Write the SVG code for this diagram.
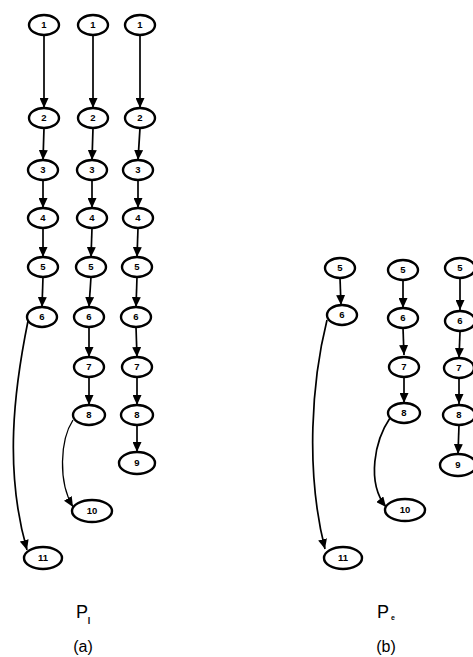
<svg xmlns="http://www.w3.org/2000/svg" width="473" height="657" viewBox="0 0 473 657">
<style>
.n ellipse{fill:#fff;stroke:#000;stroke-width:2.4}
.n text{font-family:"Liberation Sans",Arial,sans-serif;font-weight:bold;font-size:9.5px;text-anchor:middle;fill:#000}
.e{fill:none;stroke:#000;stroke-width:1.7;marker-end:url(#ah)}
.lbl{font-family:"Liberation Sans",Arial,sans-serif;fill:#000;text-anchor:middle}
</style>
<defs>
<marker id="ah" markerUnits="userSpaceOnUse" markerWidth="11" markerHeight="9" refX="10" refY="4.5" orient="auto">
<path d="M0,0 L10,4.5 L0,9 z" fill="#000"/>
</marker>
</defs>
<rect width="473" height="657" fill="#fff"/>
<g id="connectors">
<line class="e" x1="44" y1="35" x2="44" y2="108"/>
<line class="e" x1="44" y1="128" x2="43" y2="160"/>
<line class="e" x1="43" y1="180" x2="43" y2="208"/>
<line class="e" x1="43" y1="228" x2="43" y2="257"/>
<line class="e" x1="43" y1="277" x2="42" y2="307"/>
<path class="e" d="M28,321 C14,390 4,470 27,550"/>
<line class="e" x1="93" y1="35" x2="93" y2="108"/>
<line class="e" x1="93" y1="128" x2="92" y2="160"/>
<line class="e" x1="92" y1="180" x2="92" y2="208"/>
<line class="e" x1="92" y1="228" x2="91" y2="257"/>
<line class="e" x1="91" y1="277" x2="89" y2="307"/>
<line class="e" x1="89" y1="327" x2="89" y2="357"/>
<line class="e" x1="89" y1="377" x2="89" y2="405"/>
<path class="e" d="M73,420 C60,440 58,482 73,507" style="stroke-width:1.3"/>
<line class="e" x1="140" y1="35" x2="140" y2="108"/>
<line class="e" x1="140" y1="128" x2="138" y2="160"/>
<line class="e" x1="138" y1="180" x2="138" y2="208"/>
<line class="e" x1="138" y1="228" x2="137" y2="257"/>
<line class="e" x1="137" y1="277" x2="136" y2="307"/>
<line class="e" x1="136" y1="327" x2="137" y2="357"/>
<line class="e" x1="137" y1="377" x2="137" y2="405"/>
<line class="e" x1="137" y1="425" x2="137" y2="452"/>
<line class="e" x1="340" y1="278" x2="341" y2="305"/>
<path class="e" d="M327,320 C312,380 305,470 325,549"/>
<line class="e" x1="403" y1="280" x2="403" y2="308"/>
<line class="e" x1="403" y1="328" x2="404" y2="355"/>
<line class="e" x1="404" y1="377" x2="404" y2="403"/>
<path class="e" d="M390,418 C375,440 366,482 386,507"/>
<line class="e" x1="460" y1="278" x2="460" y2="310"/>
<line class="e" x1="460" y1="332" x2="459" y2="358"/>
<line class="e" x1="459" y1="378" x2="459" y2="404"/>
<line class="e" x1="459" y1="425" x2="458" y2="454"/>
</g>
<g id="a1_1" class="n"><ellipse cx="44" cy="25" rx="15" ry="10"/><text x="44" y="28">1</text></g>
<g id="a1_2" class="n"><ellipse cx="44" cy="118" rx="15" ry="10"/><text x="44" y="121">2</text></g>
<g id="a1_3" class="n"><ellipse cx="43" cy="170" rx="15" ry="10"/><text x="43" y="173">3</text></g>
<g id="a1_4" class="n"><ellipse cx="43" cy="218" rx="15" ry="10"/><text x="43" y="221">4</text></g>
<g id="a1_5" class="n"><ellipse cx="43" cy="267" rx="15" ry="10"/><text x="43" y="270">5</text></g>
<g id="a1_6" class="n"><ellipse cx="42" cy="317" rx="15" ry="10"/><text x="42" y="320">6</text></g>
<g id="a1_11" class="n"><ellipse cx="43" cy="558" rx="19" ry="11"/><text x="43" y="561">11</text></g>
<g id="a2_1" class="n"><ellipse cx="93" cy="25" rx="15" ry="10"/><text x="93" y="28">1</text></g>
<g id="a2_2" class="n"><ellipse cx="93" cy="118" rx="15" ry="10"/><text x="93" y="121">2</text></g>
<g id="a2_3" class="n"><ellipse cx="92" cy="170" rx="15" ry="10"/><text x="92" y="173">3</text></g>
<g id="a2_4" class="n"><ellipse cx="92" cy="218" rx="15" ry="10"/><text x="92" y="221">4</text></g>
<g id="a2_5" class="n"><ellipse cx="91" cy="267" rx="15" ry="10"/><text x="91" y="270">5</text></g>
<g id="a2_6" class="n"><ellipse cx="89" cy="317" rx="15" ry="10"/><text x="89" y="320">6</text></g>
<g id="a2_7" class="n"><ellipse cx="89" cy="367" rx="15" ry="10"/><text x="89" y="370">7</text></g>
<g id="a2_8" class="n"><ellipse cx="89" cy="415" rx="16" ry="10"/><text x="89" y="418">8</text></g>
<g id="a2_10" class="n"><ellipse cx="92" cy="511" rx="20" ry="11"/><text x="92" y="514">10</text></g>
<g id="a3_1" class="n"><ellipse cx="140" cy="25" rx="15" ry="10"/><text x="140" y="28">1</text></g>
<g id="a3_2" class="n"><ellipse cx="140" cy="118" rx="15" ry="10"/><text x="140" y="121">2</text></g>
<g id="a3_3" class="n"><ellipse cx="138" cy="170" rx="15" ry="10"/><text x="138" y="173">3</text></g>
<g id="a3_4" class="n"><ellipse cx="138" cy="218" rx="15" ry="10"/><text x="138" y="221">4</text></g>
<g id="a3_5" class="n"><ellipse cx="137" cy="267" rx="15" ry="10"/><text x="137" y="270">5</text></g>
<g id="a3_6" class="n"><ellipse cx="136" cy="317" rx="15" ry="10"/><text x="136" y="320">6</text></g>
<g id="a3_7" class="n"><ellipse cx="137" cy="367" rx="15" ry="10"/><text x="137" y="370">7</text></g>
<g id="a3_8" class="n"><ellipse cx="137" cy="415" rx="16" ry="10"/><text x="137" y="418">8</text></g>
<g id="a3_9" class="n"><ellipse cx="137" cy="463" rx="18" ry="11"/><text x="137" y="466">9</text></g>
<g id="b1_5" class="n"><ellipse cx="340" cy="268" rx="15" ry="10"/><text x="340" y="271">5</text></g>
<g id="b1_6" class="n"><ellipse cx="342" cy="315" rx="15" ry="10"/><text x="342" y="318">6</text></g>
<g id="b1_11" class="n"><ellipse cx="343" cy="558" rx="19" ry="11"/><text x="343" y="561">11</text></g>
<g id="b2_5" class="n"><ellipse cx="403" cy="270" rx="15" ry="10"/><text x="403" y="273">5</text></g>
<g id="b2_6" class="n"><ellipse cx="403" cy="318" rx="15" ry="10"/><text x="403" y="321">6</text></g>
<g id="b2_7" class="n"><ellipse cx="404" cy="367" rx="15" ry="10"/><text x="404" y="370">7</text></g>
<g id="b2_8" class="n"><ellipse cx="404" cy="413" rx="16" ry="10"/><text x="404" y="416">8</text></g>
<g id="b2_10" class="n"><ellipse cx="405" cy="510" rx="20" ry="11"/><text x="405" y="513">10</text></g>
<g id="b3_5" class="n"><ellipse cx="460" cy="268" rx="15" ry="10"/><text x="460" y="271">5</text></g>
<g id="b3_6" class="n"><ellipse cx="460" cy="321" rx="15" ry="10"/><text x="460" y="324">6</text></g>
<g id="b3_7" class="n"><ellipse cx="459" cy="368" rx="15" ry="10"/><text x="459" y="371">7</text></g>
<g id="b3_8" class="n"><ellipse cx="459" cy="415" rx="16" ry="10"/><text x="459" y="418">8</text></g>
<g id="b3_9" class="n"><ellipse cx="458" cy="465" rx="18" ry="11"/><text x="458" y="468">9</text></g>
<g id="label_a">
<text class="lbl" x="82" y="618" font-size="18">P</text>
<text class="lbl" x="89" y="624" font-size="9" font-weight="bold">l</text>
<text class="lbl" x="83" y="652" font-size="16">(a)</text>
</g>
<g id="label_b">
<text class="lbl" x="383" y="618" font-size="18">P</text>
<text class="lbl" x="393" y="620" font-size="7" font-weight="bold">e</text>
<text class="lbl" x="386" y="652" font-size="16">(b)</text>
</g>
</svg>
